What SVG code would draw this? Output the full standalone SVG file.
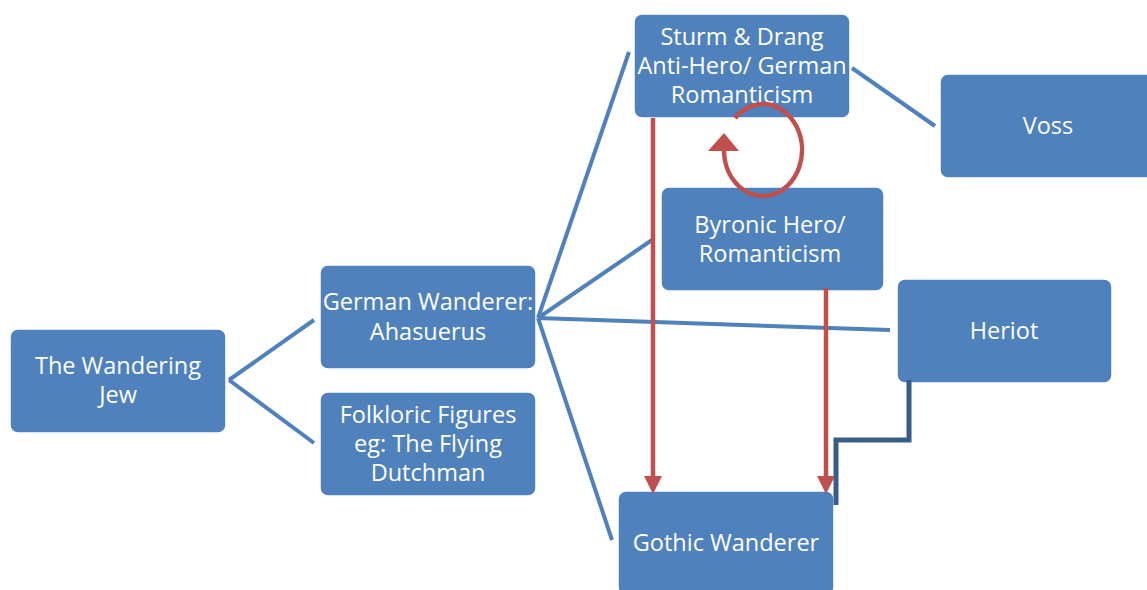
<svg xmlns="http://www.w3.org/2000/svg" width="1147" height="590" viewBox="0 0 1147 590">
<style>
.n{fill:#4F81BD;stroke:#ffffff;stroke-width:1.5}
.t{fill:#ffffff;font-family:"Open Sans","Liberation Sans",sans-serif;font-size:23.5px;text-anchor:middle}
.c{stroke:#4F81BD;stroke-width:4;fill:none}
.d{stroke:#385D8A;stroke-width:5;fill:none}
.r{stroke:#C0504D;stroke-width:4.5;fill:none}
.h{fill:#C0504D}
</style>
<rect width="1147" height="590" fill="#ffffff"/>
<g id="n1"><rect class="n" x="10" y="329" width="216" height="104" rx="8"/><text class="t" x="118" y="374">The Wandering</text><text class="t" x="118" y="403">Jew</text></g>
<g id="n2"><rect class="n" x="320" y="265" width="216" height="104" rx="8"/><text class="t" x="428" y="310">German Wanderer:</text><text class="t" x="428" y="340">Ahasuerus</text></g>
<g id="n3"><rect class="n" x="320" y="392" width="216" height="104" rx="8"/><text class="t" x="428" y="423">Folkloric Figures</text><text class="t" x="428" y="452">eg: The Flying</text><text class="t" x="428" y="481">Dutchman</text></g>
<g id="n4"><rect class="n" x="634" y="14" width="216" height="104" rx="8"/><text class="t" x="742" y="45">Sturm &amp; Drang</text><text class="t" x="742" y="74">Anti-Hero/ German</text><text class="t" x="742" y="103">Romanticism</text></g>
<g id="n5"><rect class="n" x="940" y="74" width="216" height="104" rx="8"/><text class="t" x="1048" y="134">Voss</text></g>
<g id="n6"><rect class="n" x="661" y="187" width="223" height="104" rx="8"/><text class="t" x="770" y="233">Byronic Hero/</text><text class="t" x="770" y="262">Romanticism</text></g>
<g id="n7"><rect class="n" x="897" y="279" width="215" height="104" rx="8"/><text class="t" x="1004" y="339">Heriot</text></g>
<g id="n8"><rect class="n" x="618" y="491" width="216" height="104" rx="8"/><text class="t" x="726" y="551">Gothic Wanderer</text></g>
<g id="connectors">
<path class="c" d="M229,380 L314,320 M229,380 L314,443"/>
<path class="c" d="M538,318 L629,52 M538,318 L652,240 M538,318 L890,330 M538,318 L612,540"/>
<path class="c" d="M852,68 L935,126"/>
<path class="d" d="M909,380 V440 H836 V505"/>
<path class="r" d="M653,118 V478 M826,288 V478"/>
<polygon class="h" points="644,476 662,476 653,494"/>
<polygon class="h" points="817,476 835,476 826,494"/>
<path class="r" d="M735,118 A39,46 0 1 1 724,150"/>
<polygon class="h" points="724,133 708,151 739,151"/>
</g>
</svg>
